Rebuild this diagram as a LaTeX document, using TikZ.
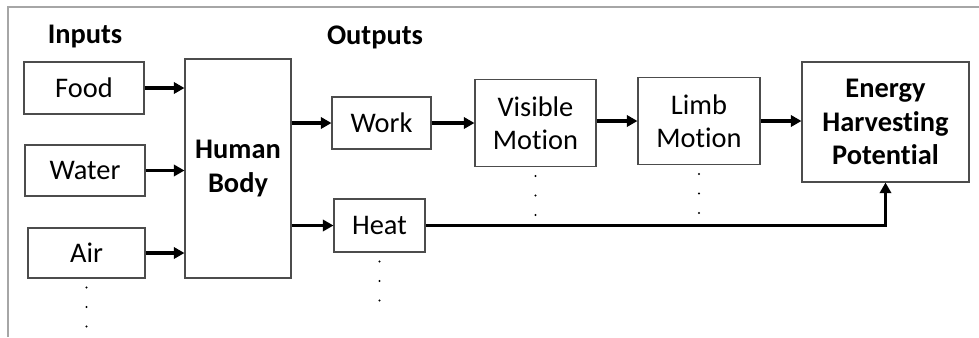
\documentclass[tikz,border=0pt]{standalone}
\usepackage{fontspec}
\setmainfont{Carlito}[Ligatures=NoCommon]
\usetikzlibrary{positioning,calc,arrows.meta}
\tikzset{
	blk/.style={draw=black!70, line width=0.8pt, inner sep=0pt, align=center, font=\fontsize{21.3}{25}\selectfont},
	hdr/.style={inner sep=0pt, font=\fontsize{21.3}{25}\selectfont\bfseries},
	flow/.style={line width=2.3pt, -{Triangle[length=8pt,width=8.5pt]}},
}
\begin{document}
\begin{tikzpicture}[x=0.75pt, y=-0.75pt]
			\useasboundingbox (0,0) rectangle (979,337);
			\draw[black!35, line width=1.1pt] (8,337) -- (8,7) -- (979,7);
			\node[hdr] (inp) at (85,37) {Inputs};
			\node[hdr] (outp) at (375,37) {Outputs};
			\node[blk, minimum width=90pt, minimum height=39pt] (food) at (84,88) {Food};
			\node[blk, minimum width=90pt, minimum height=38.25pt] (water) at (85,170.5) {Water};
			\node[blk, minimum width=87.75pt, minimum height=37.5pt] (air) at (86.5,253) {Air};
			\node[blk, minimum width=79.5pt, minimum height=164.25pt, font=\fontsize{21.3}{25}\selectfont\bfseries] (body) at (238,168.5) {Human\\Body};
			\node[blk, minimum width=74.25pt, minimum height=39pt] (work) at (381.5,123) {Work};
			\node[blk, minimum width=68.25pt, minimum height=39.75pt] (heat) at (379.5,225.5) {Heat};
			\node[blk, minimum width=90.75pt, minimum height=65.25pt] (vis) at (535.5,123) {Visible\\Motion};
			\node[blk, minimum width=91.5pt, minimum height=65.25pt] (limb) at (699,121) {Limb\\Motion};
			\node[blk, minimum width=125.25pt, minimum height=90pt, font=\fontsize{21.3}{25}\selectfont\bfseries] (energy) at (885.5,122) {Energy\\Harvesting\\Potential};
			\foreach \src in {food,water,air}
				\draw[flow] (\src) -- (\src -| body.west);
			\draw[flow] (body.east |- work) -- (work);
			\draw[flow] (body.east |- heat) -- (heat);
			\draw[flow] (work) -- (work -| vis.west);
			\draw[flow] (vis.east |- limb) -- (limb);
			\draw[flow] (limb) -- (limb -| energy.west);
			\draw[flow] (heat) -| (energy);
			\foreach \n in {air,heat,vis,limb}
				\foreach \k in {0,1,2}
					\fill ($(\n.south)+(0,9+19.5*\k)$) circle (1.1);
		\end{tikzpicture}
\end{document}
